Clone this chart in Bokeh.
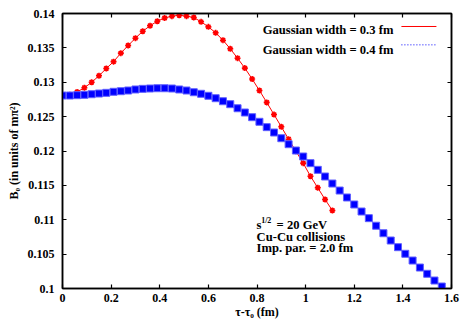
from bokeh.plotting import figure
from bokeh.models import LinearAxis, FixedTicker, CustomJSTickFormatter, Label, Range1d
from bokeh.embed import file_html
from bokeh.resources import INLINE

# ---------------- data ----------------
red_x = [0.00, 0.03, 0.06, 0.09, 0.12, 0.15, 0.18, 0.21, 0.24, 0.27, 0.30, 0.33, 0.36,
         0.39, 0.42, 0.45, 0.48, 0.51, 0.54, 0.57, 0.60, 0.63, 0.66, 0.69, 0.72, 0.75,
         0.78, 0.81, 0.84, 0.87, 0.90, 0.93, 0.96, 0.99, 1.02, 1.05, 1.08, 1.11]
red_y = [0.1280, 0.1282, 0.12858, 0.1292, 0.1300, 0.13094, 0.1320, 0.1330, 0.13423,
         0.13535, 0.13641, 0.13742, 0.13821, 0.13888, 0.13935, 0.13961, 0.13975,
         0.13961, 0.13942, 0.13879, 0.13806, 0.13719, 0.13612, 0.13487, 0.1335,
         0.13206, 0.13047, 0.1288, 0.12707, 0.1253, 0.12352, 0.12172, 0.11998,
         0.11823, 0.11633, 0.11465, 0.11295, 0.11135]

blue_x = [0.00, 0.03, 0.06, 0.09, 0.12, 0.15, 0.18, 0.21, 0.24, 0.27, 0.30, 0.33, 0.36,
          0.39, 0.42, 0.45, 0.48, 0.51, 0.54, 0.57, 0.60, 0.63, 0.66, 0.69, 0.72, 0.75,
          0.78, 0.81, 0.84, 0.87, 0.90, 0.93, 0.96, 0.99, 1.02, 1.05, 1.08, 1.11, 1.14,
          1.17, 1.20, 1.23, 1.26, 1.29, 1.32, 1.35, 1.38, 1.41, 1.44, 1.47, 1.50, 1.53,
          1.56]
blue_y = [0.12807, 0.12807, 0.12812, 0.12817, 0.12826, 0.12836, 0.12846, 0.12861,
          0.1287, 0.1288, 0.12895, 0.12904, 0.12909, 0.12913, 0.12913, 0.12909,
          0.12895, 0.1288, 0.12855, 0.12832, 0.12803, 0.12768, 0.12724, 0.12681,
          0.12622, 0.1256, 0.12492, 0.12425, 0.12347, 0.12269, 0.12186, 0.12099,
          0.12007, 0.1192, 0.11823, 0.11726, 0.11629, 0.11527, 0.11425, 0.11324,
          0.11222, 0.1112, 0.11023, 0.10913, 0.10804, 0.10698, 0.10601, 0.10505,
          0.10407, 0.10305, 0.10214, 0.10116, 0.10029]

x_ticks = [0, 0.2, 0.4, 0.6, 0.8, 1.0, 1.2, 1.4, 1.6]
y_ticks = [0.1, 0.105, 0.11, 0.115, 0.12, 0.125, 0.13, 0.135, 0.14]

legend_labels = ["Gaussian width = 0.3 fm", "Gaussian width = 0.4 fm"]
note_lines = ["Cu-Cu collisions", "Imp. par. = 2.0 fm"]

FONT = "Liberation Serif"
RED = "#ff0000"
BLUE = "#0000ff"
TXT_SIZE = "12.6px"

p = figure(width=461, height=323, output_backend="svg", toolbar_location=None,
           x_range=Range1d(0, 1.6), y_range=Range1d(0.1, 0.14),
           min_border_left=62, min_border_right=10, min_border_top=13, min_border_bottom=35)
p.grid.visible = False
p.outline_line_color = "black"
p.outline_line_width = 1.5
p.background_fill_color = "white"
p.border_fill_color = "white"

fmt = CustomJSTickFormatter(code="""
let s = tick.toFixed(3); s = s.replace(/0+$/, ''); s = s.replace(/\\.$/, ''); return s;
""")

def style_axis(ax, ticks, show_labels):
    ax.ticker = FixedTicker(ticks=ticks)
    ax.formatter = fmt
    ax.major_tick_in = 4
    ax.major_tick_out = 0
    ax.minor_tick_line_color = None
    ax.axis_line_width = 1.5
    ax.major_tick_line_width = 1.2
    ax.major_label_text_font = FONT
    ax.major_label_text_font_style = "bold"
    if show_labels:
        ax.major_label_text_font_size = "12px"
        ax.major_label_text_color = "black"
    else:
        ax.major_label_text_font_size = "1px"
        ax.major_label_text_color = None
        ax.major_label_standoff = 0

style_axis(p.xaxis[0], x_ticks, True)
style_axis(p.yaxis[0], y_ticks, True)
p.xaxis[0].major_label_standoff = 5
p.yaxis[0].major_label_standoff = 8

p.xaxis[0].axis_label = "τ-τ₀ (fm)"
p.yaxis[0].axis_label = "B₀ (in units of mπ²)"
for ax in (p.xaxis[0], p.yaxis[0]):
    ax.axis_label_text_font = FONT
    ax.axis_label_text_font_style = "bold"
    ax.axis_label_text_font_size = "12px"
    ax.axis_label_text_color = "black"
p.xaxis[0].axis_label_standoff = 0
p.yaxis[0].axis_label_standoff = 4

top_ax = LinearAxis()
style_axis(top_ax, x_ticks, False)
p.add_layout(top_ax, "above")
right_ax = LinearAxis()
style_axis(right_ax, y_ticks, False)
p.add_layout(right_ax, "right")

# ---------------- series ----------------
p.line(red_x, red_y, line_color=RED, line_width=1)
p.scatter(red_x, red_y, marker="asterisk", size=6, line_color=RED, line_width=1.6)

p.line(blue_x, blue_y, line_color=BLUE, line_width=1, line_dash="1 2")
p.scatter(blue_x, blue_y, marker="square", size=7, fill_color=BLUE,
          line_color="#6060ff", line_width=1)

# ---------------- legend (text right-aligned, line sample to its right) ----------------
leg_text_x = 1.361
leg_line_x0, leg_line_x1 = 1.394, 1.538
leg_text_y = [0.13753, 0.13476]
leg_line_y = [0.13811, 0.13544]
for lab, ty in zip(legend_labels, leg_text_y):
    p.add_layout(Label(x=leg_text_x, y=ty, text=lab, text_align="right",
                       text_baseline="alphabetic", text_font=FONT,
                       text_font_style="bold", text_font_size=TXT_SIZE, text_color="black"))
p.line([leg_line_x0, leg_line_x1], [leg_line_y[0], leg_line_y[0]], line_color=RED, line_width=1)
p.line([leg_line_x0, leg_line_x1], [leg_line_y[1], leg_line_y[1]], line_color=BLUE,
       line_width=1, line_dash="1 2")

# ---------------- annotation ----------------
def txt(x, y, t, size=TXT_SIZE):
    p.add_layout(Label(x=x, y=y, text=t, text_align="left", text_baseline="alphabetic",
                       text_font=FONT, text_font_style="bold", text_font_size=size,
                       text_color="black"))

txt(0.7984, 0.10927, "s")
txt(0.817, 0.10985, "1/2", "8px")
txt(0.8807, 0.10927, "= 20 GeV")
txt(0.7984, 0.10756, note_lines[0])
txt(0.7984, 0.10596, note_lines[1])

open("out.html", "w").write(file_html(p, INLINE))
